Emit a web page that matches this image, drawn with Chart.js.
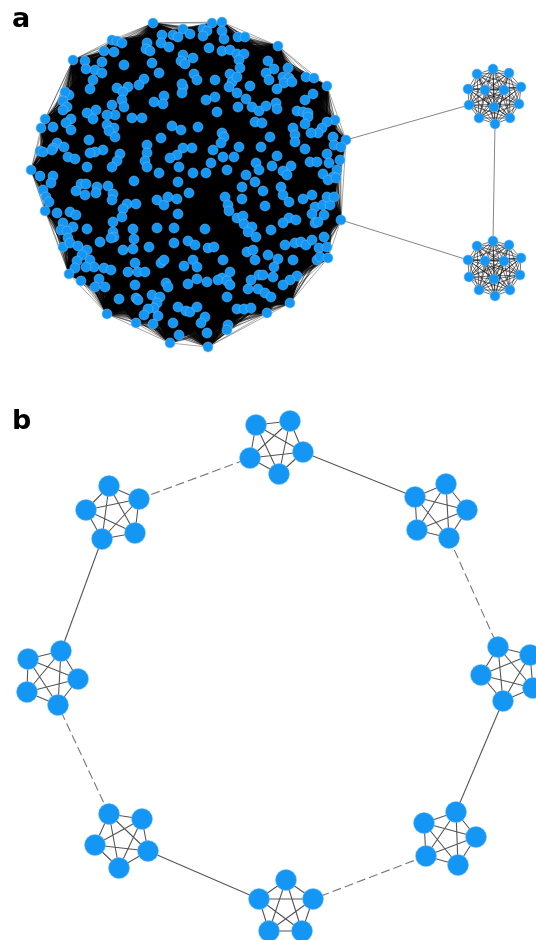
<!DOCTYPE html>
<html>
<head>
<meta charset="utf-8">
<script src="https://cdn.jsdelivr.net/npm/chart.js@4"></script>
<style>
  html, body { margin: 0; padding: 0; background: #fff; overflow: hidden; }
  #wrap { position: relative; width: 536px; height: 940px; }
  #net { display: block; }
  .tag { position: absolute; left: 12px; font: bold 27px "DejaVu Sans", sans-serif; color: #000; line-height: 1; }
</style>
</head>
<body>
<div id="wrap">
  <canvas id="net" width="536" height="940"></canvas>
  <div class="tag" style="top:4px">a</div>
  <div class="tag" style="top:406px">b</div>
</div>
<script>
// panel a: the big clique, node positions
const bigNodes = [
  [153,23],[183,29],[162,35],[173,35],[178,37],[190,34],[112,40],[117,41],[122,43],[147,43],[161,43],[169,47],
  [146,49],[150,51],[104,51],[114,52],[183,55],[193,58],[181,61],[185,64],[73,60],[85,61],[102,62],[124,65],
  [152,63],[86,69],[95,70],[102,73],[159,73],[194,74],[93,80],[144,79],[197,80],[139,85],[183,87],[117,88],
  [128,87],[123,92],[90,89],[182,93],[164,96],[69,95],[65,92],[122,100],[154,102],[163,104],[63,101],[67,107],
  [112,105],[124,107],[96,110],[87,113],[63,110],[115,115],[107,115],[132,118],[142,118],[93,119],[71,119],[45,119],
  [66,123],[107,125],[114,128],[53,127],[41,128],[172,126],[109,131],[71,130],[181,130],[115,137],[161,138],[89,140],
  [147,145],[57,143],[53,148],[64,147],[192,148],[183,148],[103,150],[95,152],[40,151],[43,152],[90,153],[147,153],
  [120,154],[52,150],[177,155],[68,157],[75,159],[170,158],[145,161],[117,161],[31,170],[87,167],[112,167],[147,167],
  [179,167],[193,173],[159,173],[40,176],[53,176],
  [203,29],[207,31],[212,23],[222,22],[222,31],[203,36],[238,37],[245,37],[224,39],[278,46],[209,48],[222,51],
  [230,50],[237,54],[244,54],[239,60],[268,61],[274,69],[288,68],[266,73],[240,68],[230,74],[283,77],[289,78],
  [306,77],[314,78],[215,80],[232,82],[229,87],[237,77],[284,83],[292,82],[269,80],[327,86],[250,86],[277,89],
  [182,84],[237,93],[313,94],[206,100],[215,97],[246,99],[305,100],[238,107],[252,107],[259,111],[266,106],[276,103],
  [277,109],[297,111],[303,112],[308,113],[308,117],[217,112],[335,120],[327,122],[255,122],[262,123],[305,124],[293,128],
  [198,127],[322,128],[318,133],[311,133],[222,133],[224,137],[295,135],[333,137],[270,137],[346,140],[295,142],[334,145],
  [221,143],[341,147],[239,147],[261,147],[305,149],[213,150],[277,156],[223,157],[234,157],[327,154],[310,162],[317,162],
  [329,163],[340,160],[211,163],[256,163],[272,166],[291,166],[337,170],[206,173],[227,170],[246,175],[259,170],[283,171],
  [287,175],[323,174],[333,177],
  [51,183],[134,181],[178,182],[81,184],[76,191],[86,184],[97,187],[96,193],[85,195],[108,186],[113,194],[112,200],
  [43,190],[46,197],[49,202],[127,204],[136,204],[157,200],[164,205],[168,197],[177,199],[189,193],[123,209],[122,217],
  [113,222],[45,211],[57,213],[70,212],[76,215],[63,223],[73,227],[87,229],[61,230],[67,231],[178,214],[157,228],
  [174,228],[133,229],[113,232],[114,237],[134,239],[100,242],[111,238],[68,238],[63,247],[70,243],[78,246],[87,250],
  [82,255],[77,261],[75,268],[90,260],[94,267],[86,267],[123,250],[133,249],[149,247],[174,243],[188,241],[195,245],
  [104,268],[111,270],[128,272],[138,272],[145,272],[135,263],[161,263],[164,260],[184,266],[193,260],[197,279],[69,274],
  [81,281],[99,279],[95,287],[105,287],[135,285],[166,283],[168,287],[188,284],[119,299],[136,298],[138,300],[152,295],
  [160,297],[157,303],[154,308],[148,309],[144,315],[158,316],[178,307],[186,311],[190,312],[197,307],[107,314],[136,323],
  [153,324],[173,323],[179,335],[170,343],
  [328,180],[336,178],[255,182],[242,187],[281,187],[263,191],[283,195],[225,197],[242,199],[289,202],[303,199],[312,195],
  [265,206],[228,205],[229,211],[315,207],[323,205],[330,205],[327,197],[334,197],[312,214],[324,215],[237,218],[243,216],
  [289,218],[296,220],[283,223],[315,223],[318,222],[341,220],[244,224],[252,227],[248,232],[271,230],[205,229],[256,237],
  [324,237],[208,248],[214,247],[247,252],[253,250],[268,255],[285,245],[295,243],[301,242],[306,245],[312,240],[319,248],
  [327,247],[223,260],[255,260],[278,259],[293,260],[317,260],[320,257],[328,258],[197,267],[274,267],[230,272],[222,278],
  [218,280],[227,281],[230,285],[259,275],[263,275],[273,277],[251,280],[207,282],[297,276],[290,280],[283,285],[258,289],
  [248,289],[227,297],[265,293],[271,297],[290,303],[205,317],[201,323],[237,309],[244,309],[251,308],[267,313],[228,325],
  [227,330],[207,333],[208,347]
];

// panel a: the two small cliques on the right
const smallTop = [
  [493,69],[477,74],[509,73],[468,89],[521,87],[485,90],[504,90],
  [469,105],[494,107],[519,104],[479,118],[510,118],[495,124]
];
const smallBottom = [
  [493,241],[477,246],[509,245],[468,260],[485,261],[504,261],[521,258],
  [469,277],[494,279],[520,275],[479,290],[510,290],[495,296]
];

// panel a: links between the cliques
const bridgesA = [
  [[346,140],[469,105]],
  [[341,220],[468,260]],
  [[495,124],[493,241]]
];

// panel b: ring of eight 5-node cliques
const ringClusters = [
  [[256,425],[290,421],[250,458],[303,452],[279,474]],
  [[415,497],[446,484],[467,510],[417,530],[449,538]],
  [[498,647],[530,655],[481,675],[533,688],[503,701]],
  [[456,812],[424,823],[476,837],[426,856],[458,865]],
  [[286,880],[259,899],[313,899],[269,931],[302,931]],
  [[109,814],[142,819],[95,845],[148,851],[119,868]],
  [[61,651],[28,659],[78,679],[27,692],[58,705]],
  [[109,486],[139,499],[86,510],[135,533],[102,539]]
];

// [cluster, node, cluster, node, dashed]
const ringLinks = [
  [0,3,1,0,false],
  [1,4,2,0,true],
  [2,4,3,0,false],
  [3,3,4,2,true],
  [4,1,5,3,false],
  [5,0,6,4,true],
  [6,0,7,4,false],
  [7,1,0,2,true]
];

const nodeColor = '#1396f4';
const toXY = p => ({ x: p[0], y: p[1] });

const edgePlugin = {
  id: 'edges',
  beforeDatasetsDraw(chart) {
    const ctx = chart.ctx;
    const sx = chart.scales.x, sy = chart.scales.y;
    const px = p => [sx.getPixelForValue(p[0]), sy.getPixelForValue(p[1])];

    function clique(pts, color, width) {
      const q = pts.map(px);
      ctx.strokeStyle = color;
      ctx.lineWidth = width;
      ctx.beginPath();
      for (let i = 0; i < q.length; i++) {
        for (let j = i + 1; j < q.length; j++) {
          ctx.moveTo(q[i][0], q[i][1]);
          ctx.lineTo(q[j][0], q[j][1]);
        }
      }
      ctx.stroke();
    }
    function line(a, b, color, width, dash) {
      const p = px(a), r = px(b);
      ctx.strokeStyle = color;
      ctx.lineWidth = width;
      ctx.setLineDash(dash || []);
      ctx.beginPath();
      ctx.moveTo(p[0], p[1]);
      ctx.lineTo(r[0], r[1]);
      ctx.stroke();
      ctx.setLineDash([]);
    }

    ctx.save();
    clique(bigNodes, '#000', 0.35);
    clique(smallTop, 'rgba(20,20,20,0.85)', 0.7);
    clique(smallBottom, 'rgba(20,20,20,0.85)', 0.7);
    bridgesA.forEach(b => line(b[0], b[1], '#777', 0.9));

    ringClusters.forEach(c => clique(c, '#555', 1.1));
    ringLinks.forEach(l => {
      const a = ringClusters[l[0]][l[1]];
      const b = ringClusters[l[2]][l[3]];
      line(a, b, l[4] ? '#777' : '#555', 1.1, l[4] ? [9, 4] : null);
    });
    ctx.restore();
  }
};

new Chart(document.getElementById('net'), {
  type: 'scatter',
  data: {
    datasets: [
      { data: bigNodes.map(toXY), pointRadius: 5 },
      { data: smallTop.map(toXY), pointRadius: 5 },
      { data: smallBottom.map(toXY), pointRadius: 5 },
      { data: ringClusters.flat().map(toXY), pointRadius: 10.5 }
    ].map(d => Object.assign(d, {
      backgroundColor: nodeColor,
      borderColor: 'rgba(120,190,245,0.9)',
      borderWidth: 0.6,
      pointHoverRadius: d.pointRadius,
      clip: false
    }))
  },
  options: {
    responsive: false,
    animation: false,
    events: [],
    layout: { padding: 0, autoPadding: false },
    plugins: { legend: { display: false }, tooltip: { enabled: false } },
    scales: {
      x: { type: 'linear', min: 0, max: 536, display: false },
      y: { type: 'linear', min: 0, max: 940, reverse: true, display: false }
    }
  },
  plugins: [edgePlugin]
});
</script>
</body>
</html>
